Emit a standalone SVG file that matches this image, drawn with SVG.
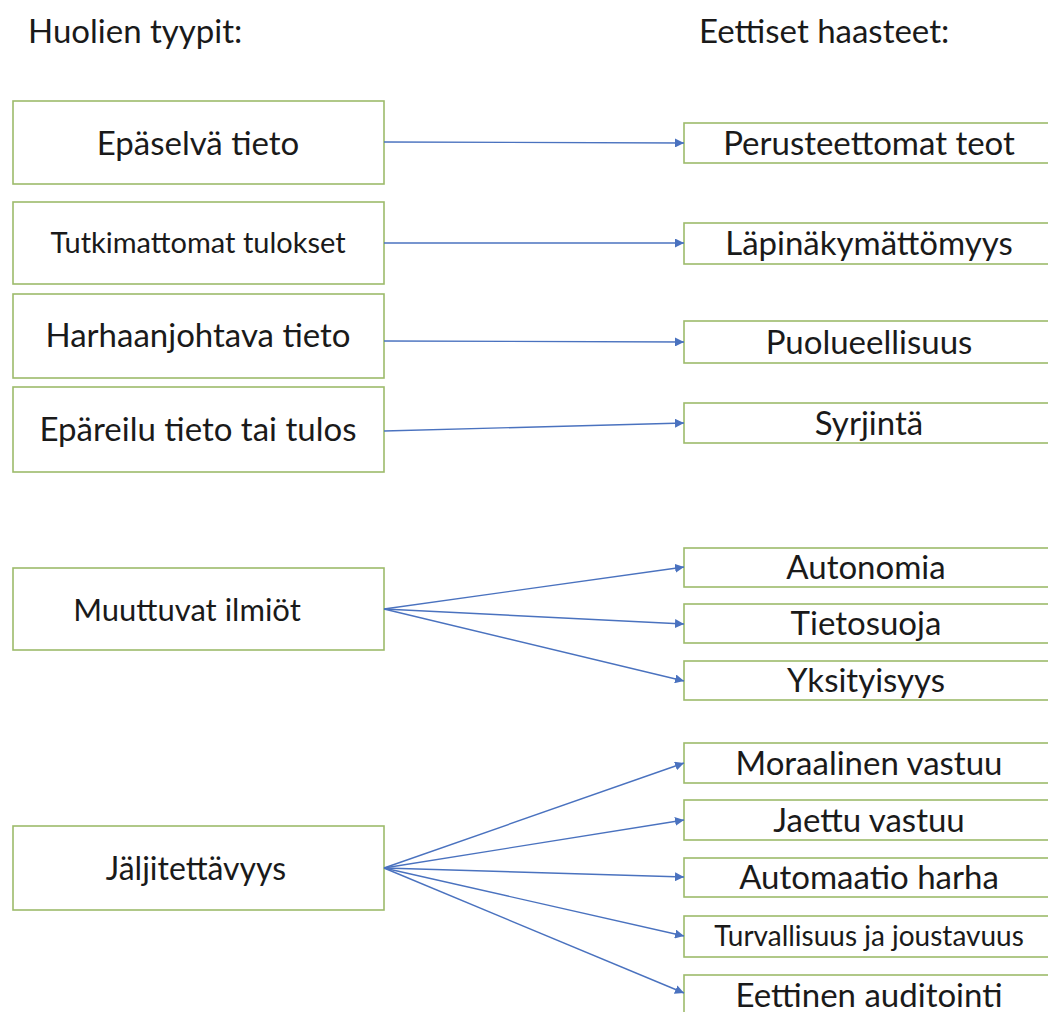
<svg xmlns="http://www.w3.org/2000/svg" width="1048" height="1012" viewBox="0 0 1048 1012">
<style>
  text { font-family: Lato, "Open Sans", "Liberation Sans", sans-serif; fill: #1a1a1a; }
  .box { fill: #ffffff; stroke: #9dbb6b; stroke-width: 1.6; }
  .lbl { font-size: 33px; text-anchor: middle; }
  .hdr { font-size: 33px; }
  .conn line { stroke: #4a72bf; stroke-width: 1.4; fill: none; marker-end: url(#ah); }
</style>
<defs>
  <marker id="ah" viewBox="0 0 10 10" refX="10" refY="5" markerWidth="9" markerHeight="9" markerUnits="userSpaceOnUse" orient="auto">
    <path d="M0,0 L10,5 L0,10 z" fill="#4a72bf"/>
  </marker>
</defs>
<rect width="1048" height="1012" fill="#ffffff"/>
<text class="hdr" x="28" y="43">Huolien tyypit:</text>
<text class="hdr" x="699" y="43">Eettiset haasteet:</text>

<g id="l1"><rect class="box" x="13" y="101" width="371" height="83"/><text class="lbl" x="198" y="155">Epäselvä tieto</text></g>
<g id="l2"><rect class="box" x="13" y="202" width="371" height="82"/><text class="lbl" x="198" y="253" style="font-size:29px">Tutkimattomat tulokset</text></g>
<g id="l3"><rect class="box" x="13" y="294" width="371" height="84"/><text class="lbl" x="198" y="347">Harhaanjohtava tieto</text></g>
<g id="l4"><rect class="box" x="13" y="387" width="371" height="85"/><text class="lbl" x="198" y="441">Epäreilu tieto tai tulos</text></g>
<g id="l5"><rect class="box" x="13" y="568" width="371" height="82"/><text class="lbl" x="187" y="621" style="font-size:31px">Muuttuvat ilmiöt</text></g>
<g id="l6"><rect class="box" x="13" y="826" width="371" height="84"/><text class="lbl" x="196" y="880" style="font-size:32px">Jäljitettävyys</text></g>

<g id="r1"><rect class="box" x="684" y="123" width="370" height="40"/><text class="lbl" x="869" y="155">Perusteettomat teot</text></g>
<g id="r2"><rect class="box" x="684" y="223" width="370" height="41"/><text class="lbl" x="869" y="255">Läpinäkymättömyys</text></g>
<g id="r3"><rect class="box" x="684" y="321" width="370" height="42"/><text class="lbl" x="869" y="354">Puolueellisuus</text></g>
<g id="r4"><rect class="box" x="684" y="403" width="370" height="40"/><text class="lbl" x="869" y="435">Syrjintä</text></g>
<g id="r5"><rect class="box" x="684" y="548" width="370" height="39"/><text class="lbl" x="866" y="579">Autonomia</text></g>
<g id="r6"><rect class="box" x="684" y="604" width="370" height="39"/><text class="lbl" x="866" y="635">Tietosuoja</text></g>
<g id="r7"><rect class="box" x="684" y="661" width="370" height="39"/><text class="lbl" x="866" y="692">Yksityisyys</text></g>
<g id="r8"><rect class="box" x="684" y="743" width="370" height="40"/><text class="lbl" x="869" y="775">Moraalinen vastuu</text></g>
<g id="r9"><rect class="box" x="684" y="800" width="370" height="40"/><text class="lbl" x="869" y="832">Jaettu vastuu</text></g>
<g id="r10"><rect class="box" x="684" y="858" width="370" height="39"/><text class="lbl" x="869" y="889">Automaatio harha</text></g>
<g id="r11"><rect class="box" x="684" y="916" width="370" height="41"/><text class="lbl" x="869" y="946" style="font-size:28px">Turvallisuus ja joustavuus</text></g>
<g id="r12"><rect class="box" x="684" y="975" width="370" height="50"/><text class="lbl" x="869" y="1007">Eettinen auditointi</text></g>

<g id="connectors" class="conn">
  <line x1="384" y1="142" x2="684" y2="143"/>
  <line x1="384" y1="243" x2="684" y2="243"/>
  <line x1="384" y1="341" x2="684" y2="342"/>
  <line x1="384" y1="431" x2="684" y2="423"/>
  <line x1="384" y1="609" x2="684" y2="567"/>
  <line x1="384" y1="609" x2="684" y2="624"/>
  <line x1="384" y1="609" x2="684" y2="681"/>
  <line x1="384" y1="868" x2="684" y2="763"/>
  <line x1="384" y1="868" x2="684" y2="820"/>
  <line x1="384" y1="868" x2="684" y2="877"/>
  <line x1="384" y1="868" x2="684" y2="936"/>
  <line x1="384" y1="868" x2="684" y2="993"/>
</g>
</svg>
